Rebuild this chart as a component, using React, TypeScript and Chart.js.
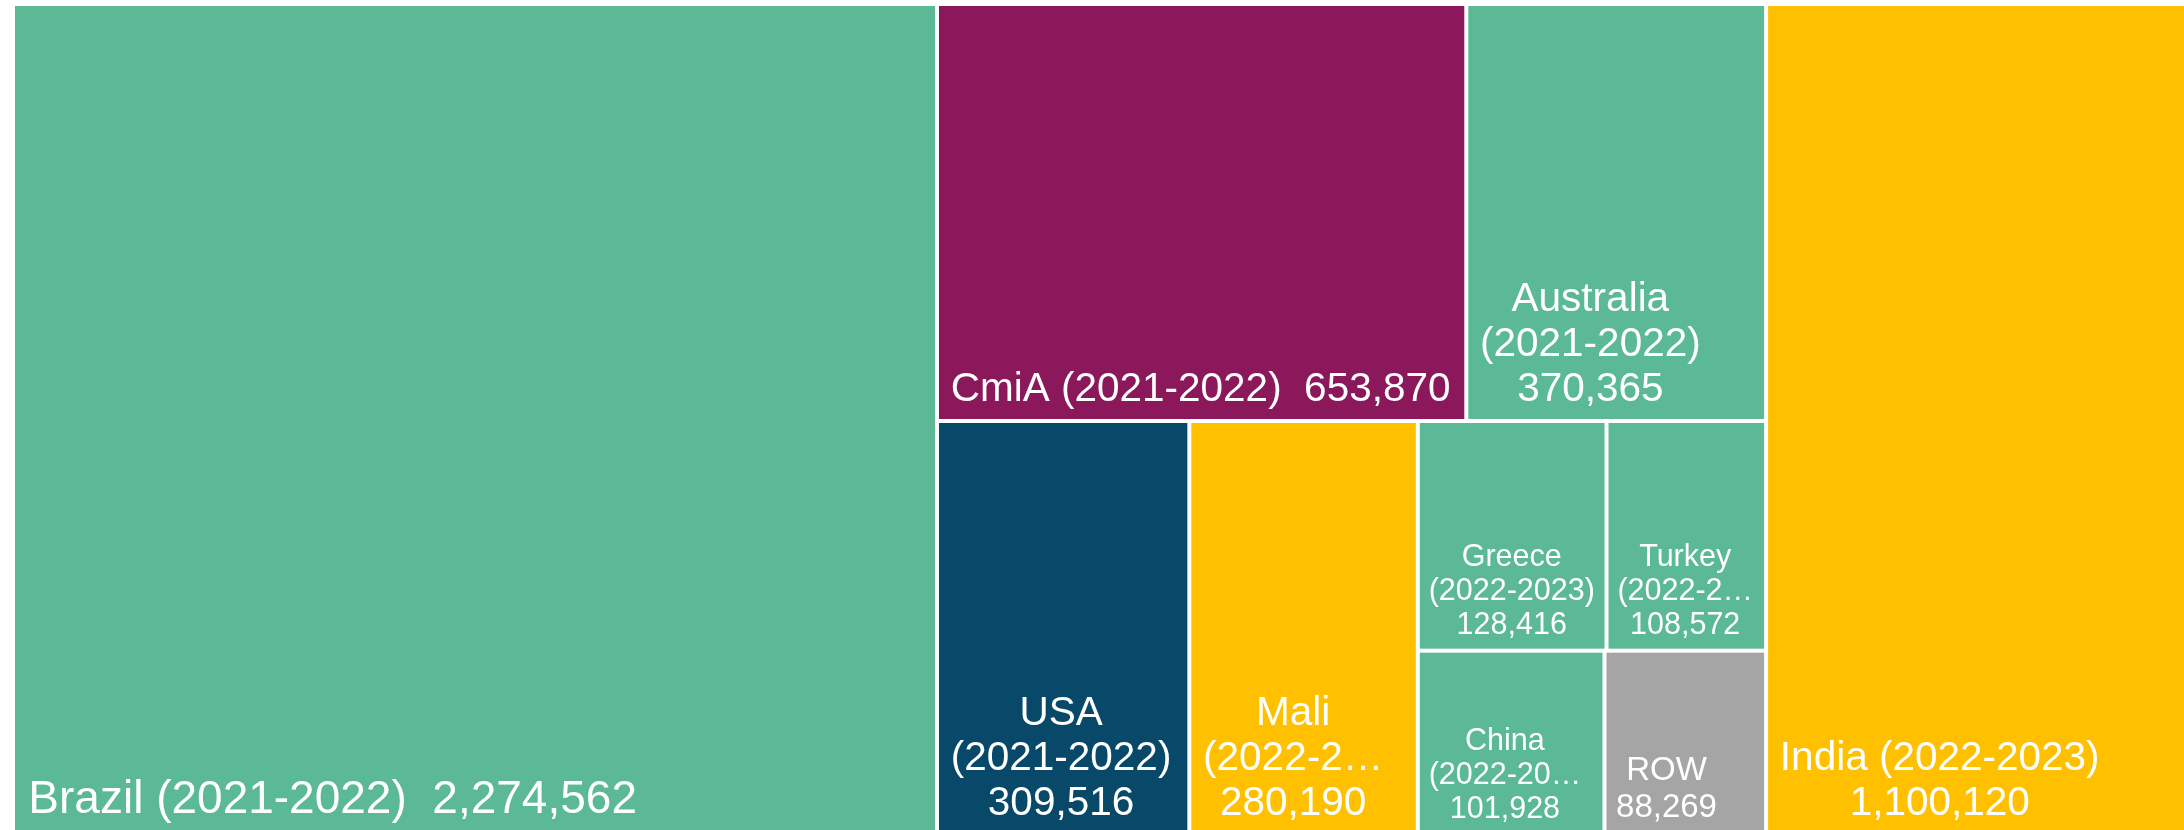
import React, { useEffect, useRef } from 'react';
import { Chart, registerables } from 'chart.js';

Chart.register(...registerables);

// ---------- data ----------
const categories = ['Brazil', 'CmiA', 'Australia', 'USA', 'Mali', 'Greece', 'Turkey', 'China', 'ROW', 'India'];
const seasons = ['(2021-2022)', '(2021-2022)', '(2021-2022)', '(2021-2022)', '(2022-2023)', '(2022-2023)', '(2022-2023)', '(2022-2023)', '', '(2022-2023)'];
const values = [2274562, 653870, 370365, 309516, 280190, 128416, 108572, 101928, 88269, 1100120];

// grouping of the treemap (slice-and-dice), by category index
type TreeNode = number | { dir: 'h' | 'v'; children: TreeNode[] };
const TREE: TreeNode = {
  dir: 'h',
  children: [
    0,
    {
      dir: 'v',
      children: [
        { dir: 'h', children: [1, 2] },
        {
          dir: 'h',
          children: [
            3,
            4,
            {
              dir: 'v',
              children: [
                { dir: 'h', children: [5, 6] },
                { dir: 'h', children: [7, 8] },
              ],
            },
          ],
        },
      ],
    },
    9,
  ],
};

// ---------- styles ----------
const COLORS = ['#5BB995', '#8A185B', '#5BB995', '#084969', '#FFC000', '#5BB995', '#5BB995', '#5BB995', '#A5A5A5', '#FFC000'];
const FONT_SIZES = [46, 40.5, 40.5, 40.5, 40.5, 30.5, 30.5, 30.5, 33, 40.5];
const FONT_FAMILY = '"Liberation Sans", Arial, sans-serif';
const GAP = 2;

function nodeSum(n: TreeNode): number {
  if (typeof n === 'number') return values[n];
  return n.children.reduce((s, c) => s + nodeSum(c), 0);
}

type Cell = { x: number; y: number; x0: number; x1: number; y0: number; y1: number; i: number };

function layout(n: TreeNode, x0: number, y0: number, x1: number, y1: number, out: Cell[]) {
  if (typeof n === 'number') {
    out.push({ x: (x0 + x1) / 2, y: (y0 + y1) / 2, x0, x1, y0, y1, i: n });
    return;
  }
  const total = nodeSum(n);
  let acc = 0;
  for (const c of n.children) {
    const f0 = acc / total;
    acc += nodeSum(c);
    const f1 = acc / total;
    if (n.dir === 'h') layout(c, x0 + (x1 - x0) * f0, y0, x0 + (x1 - x0) * f1, y1, out);
    else layout(c, x0, y0 + (y1 - y0) * f0, x1, y0 + (y1 - y0) * f1, out);
  }
}

function buildLines(ctx: CanvasRenderingContext2D, i: number, avail: number): string[] {
  const tokens: { t: string; sep: string }[] = [];
  const words = (categories[i] + (seasons[i] ? ' ' + seasons[i] : '')).split(' ');
  words.forEach((w) => tokens.push({ t: w, sep: ' ' }));
  tokens.push({ t: values[i].toLocaleString('en-US'), sep: '  ' });
  const lines: string[] = [];
  let cur = tokens[0].t;
  for (let k = 1; k < tokens.length; k++) {
    const cand = cur + tokens[k].sep + tokens[k].t;
    if (ctx.measureText(cand).width <= avail) cur = cand;
    else {
      lines.push(cur);
      cur = tokens[k].t;
    }
  }
  lines.push(cur);
  return lines.map((l) => {
    if (ctx.measureText(l).width <= avail) return l;
    let s = l;
    while (s.length > 0 && ctx.measureText(s + '…').width > avail) s = s.slice(0, -1);
    return s + '…';
  });
}

const treemapPlugin = {
  id: 'treemapCells',
  afterDatasetsDraw(chart: any) {
    const ctx: CanvasRenderingContext2D = chart.ctx;
    const xs = chart.scales.x;
    const ys = chart.scales.y;
    const cells: Cell[] = chart.data.datasets[0].data;
    ctx.save();
    for (const c of cells) {
      const L = xs.getPixelForValue(c.x0) + GAP;
      const R = xs.getPixelForValue(c.x1) - GAP;
      const T = ys.getPixelForValue(c.y0) + GAP;
      const B = ys.getPixelForValue(c.y1) - GAP;
      ctx.fillStyle = COLORS[c.i];
      ctx.fillRect(L, T, R - L, B - T);

      const size = FONT_SIZES[c.i];
      ctx.font = `${size}px ${FONT_FAMILY}`;
      const pad = 0.29 * size;
      const avail = R - L - 2 * pad;
      const lines = buildLines(ctx, c.i, avail);
      const blockW = Math.max(...lines.map((l) => ctx.measureText(l).width));
      const cx = L + pad + blockW / 2;
      const lh = 1.11 * size;
      const lastBase = B - (0.3 * size + 6);
      ctx.save();
      ctx.beginPath();
      ctx.rect(L, T, R - L, B - T);
      ctx.clip();
      ctx.fillStyle = '#FFFFFF';
      ctx.textAlign = 'center';
      ctx.textBaseline = 'alphabetic';
      lines.forEach((l, k) => {
        ctx.fillText(l, cx, lastBase - (lines.length - 1 - k) * lh);
      });
      ctx.restore();
    }
    ctx.restore();
  },
};

export default function App() {
  const ref = useRef<HTMLCanvasElement | null>(null);
  useEffect(() => {
    if (!ref.current) return;
    const cells: Cell[] = [];
    layout(TREE, 0, 0, 1, 1, cells);
    const chart = new Chart(ref.current, {
      type: 'scatter',
      data: {
        datasets: [
          {
            label: 'cells',
            data: cells as any,
            pointRadius: 0,
            pointHoverRadius: 0,
          },
        ],
      },
      options: {
        responsive: false,
        animation: false,
        devicePixelRatio: 1,
        events: [],
        layout: { padding: { left: 13, top: 4, right: 7, bottom: 5 } },
        plugins: { legend: { display: false }, tooltip: { enabled: false } },
        scales: {
          x: { type: 'linear', min: 0, max: 1, display: false },
          y: { type: 'linear', min: 0, max: 1, reverse: true, display: false },
        },
      },
      plugins: [treemapPlugin],
    });
    return () => chart.destroy();
  }, []);
  return (
    <div
      style={{
        position: 'fixed',
        left: 0,
        top: 0,
        width: 2184,
        height: 830,
        overflow: 'hidden',
        background: '#FFFFFF',
      }}
    >
      <canvas ref={ref} width={2220} height={840} style={{ display: 'block' }} />
    </div>
  );
}
